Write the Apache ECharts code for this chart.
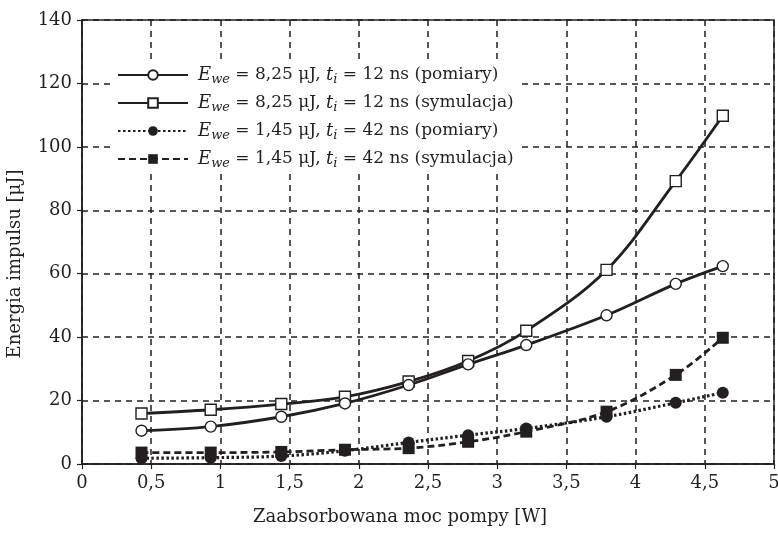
<!DOCTYPE html>
<html>
<head>
<meta charset="utf-8">
<script src="https://cdn.jsdelivr.net/npm/echarts@6/dist/echarts.min.js"></script>
<style>
  html, body { margin: 0; padding: 0; background: #fff; }
  #chart { width: 778px; height: 534px; }
</style>
</head>
<body>
<div id="chart"></div>
<script>
// moc pompy [W]
var pumpPower = [0.43, 0.93, 1.44, 1.90, 2.36, 2.79, 3.21, 3.79, 4.29, 4.63];
// E_we = 8,25 uJ, t_i = 12 ns
var energyMeas825 = [10.5, 11.8, 14.9, 19.1, 24.9, 31.4, 37.5, 46.9, 56.8, 62.4];
var energySim825 = [15.9, 17.1, 18.9, 21.2, 26.0, 32.5, 42.0, 61.2, 89.2, 109.8];
// E_we = 1,45 uJ, t_i = 42 ns
var energyMeas145 = [1.8, 2.0, 2.5, 4.2, 6.8, 9.1, 11.2, 14.9, 19.3, 22.5];
var energySim145 = [3.6, 3.6, 3.8, 4.5, 5.0, 7.0, 10.2, 16.5, 28.1, 39.8];

var seriesNames = ['m825', 's825', 'm145', 's145'];
var legendLabels = {
    m825: '{i|E}{sub|we} = 8,25 μJ, {i|t}{sub|i} = 12 ns (pomiary)',
    s825: '{i|E}{sub|we} = 8,25 μJ, {i|t}{sub|i} = 12 ns (symulacja)',
    m145: '{i|E}{sub|we} = 1,45 μJ, {i|t}{sub|i} = 42 ns (pomiary)',
    s145: '{i|E}{sub|we} = 1,45 μJ, {i|t}{sub|i} = 42 ns (symulacja)'
};

var ink = '#231f20';
var serif = 'DejaVu Serif';

function pairs(ys) {
    return pumpPower.map(function (x, i) { return [x, ys[i]]; });
}

function commaFmt(v) {
    return String(v).replace('.', ',');
}

var chart = echarts.init(document.getElementById('chart'));

var option = {
    backgroundColor: '#ffffff',
    animation: false,
    grid: {
        left: 82,
        right: 4,
        top: 20,
        bottom: 70,
        outerBoundsMode: 'none',
        show: true,
        borderColor: ink,
        borderWidth: 1.5,
        backgroundColor: 'transparent'
    },
    legend: {
        data: seriesNames,
        orient: 'vertical',
        left: 113,
        top: 64,
        itemWidth: 70,
        itemHeight: 12,
        itemGap: 8,
        backgroundColor: '#ffffff',
        padding: [2, 4, 2, 4],
        formatter: function (name) { return legendLabels[name]; },
        textStyle: {
            color: ink,
            fontFamily: serif,
            fontSize: 17,
            padding: [0, 0, 0, 5],
            rich: {
                i: { fontStyle: 'italic', fontSize: 18, fontFamily: serif, color: ink },
                sub: { fontStyle: 'italic', fontSize: 13, fontFamily: serif, color: ink, padding: [9, 0, 0, 0] }
            }
        }
    },
    xAxis: {
        type: 'value',
        min: 0,
        max: 5,
        interval: 0.5,
        name: 'Zaabsorbowana moc pompy [W]',
        nameLocation: 'middle',
        nameGap: 44,
        nameTextStyle: { color: ink, fontFamily: serif, fontSize: 18, padding: [0, 56, 0, 0] },
        axisLine: { show: true, lineStyle: { color: ink, width: 1.5 } },
        axisTick: { show: true, inside: false, length: 5, lineStyle: { color: ink, width: 1.2 } },
        axisLabel: { color: ink, fontFamily: serif, fontSize: 18, margin: 10, formatter: commaFmt },
        splitLine: { show: true, lineStyle: { color: ink, width: 1.5, type: [6, 5] } }
    },
    yAxis: {
        type: 'value',
        min: 0,
        max: 140,
        interval: 20,
        name: 'Energia impulsu [μJ]',
        nameLocation: 'middle',
        nameGap: 58,
        nameTextStyle: { color: ink, fontFamily: serif, fontSize: 18, padding: [0, 44, 0, 0] },
        axisLine: { show: true, lineStyle: { color: ink, width: 1.5 } },
        axisTick: { show: true, inside: false, length: 5, lineStyle: { color: ink, width: 1.2 } },
        axisLabel: { color: ink, fontFamily: serif, fontSize: 18, margin: 10 },
        splitLine: { show: true, lineStyle: { color: ink, width: 1.5, type: [6, 5] } }
    },
    series: [{
        name: 'm825',
        type: 'line',
        smooth: 0.35,
        data: pairs(energyMeas825),
        symbol: 'circle',
        symbolSize: 11,
        lineStyle: { color: ink, width: 2.8, type: 'solid' },
        itemStyle: { color: '#ffffff', borderColor: ink, borderWidth: 1.4 },
        z: 4
    }, {
        name: 's825',
        type: 'line',
        smooth: 0.35,
        data: pairs(energySim825),
        symbol: 'rect',
        symbolSize: 11,
        lineStyle: { color: ink, width: 2.8, type: 'solid' },
        itemStyle: { color: '#ffffff', borderColor: ink, borderWidth: 1.4 },
        z: 3
    }, {
        name: 'm145',
        type: 'line',
        smooth: 0.35,
        data: pairs(energyMeas145),
        symbol: 'circle',
        symbolSize: 12,
        lineStyle: { color: ink, width: 3.2, type: [2.5, 2.5] },
        itemStyle: { color: ink, borderColor: ink, borderWidth: 0 },
        z: 4
    }, {
        name: 's145',
        type: 'line',
        smooth: 0.35,
        data: pairs(energySim145),
        symbol: 'rect',
        symbolSize: 12,
        lineStyle: { color: ink, width: 2.8, type: [7, 4] },
        itemStyle: { color: ink, borderColor: ink, borderWidth: 0 },
        z: 3
    }]
};

chart.setOption(option);
</script>
</body>
</html>
